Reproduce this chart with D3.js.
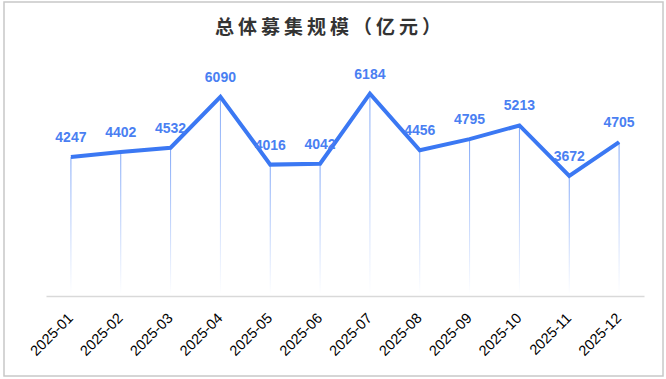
<!DOCTYPE html>
<html>
<head>
<meta charset="utf-8">
<script src="https://cdn.jsdelivr.net/npm/d3@7"></script>
<style>
  body { margin: 0; background: #fff; }
</style>
</head>
<body>
<div class="chart"></div>
<script>
const months = ["2025-01","2025-02","2025-03","2025-04","2025-05","2025-06",
                "2025-07","2025-08","2025-09","2025-10","2025-11","2025-12"];
const amounts = [4247, 4402, 4532, 6090, 4016, 4042, 6184, 4456, 4795, 5213, 3672, 4705];
const title = "总体募集规模（亿元）";

const data = months.map((m, i) => ({month: m, value: amounts[i]}));

const W = 666, H = 379;
const margin = ({top: 67, right: 22, bottom: 83, left: 46});
const width = W - margin.left - margin.right,
      height = H - margin.top - margin.bottom;

const svg = d3.select(".chart").append("svg")
    .attr("width", W)
    .attr("height", H);

// frame
svg.append("rect")
    .attr("x", 4).attr("y", 2)
    .attr("width", 659).attr("height", 374)
    .attr("fill", "none")
    .attr("stroke", "#c8c8c8")
    .attr("stroke-width", 1.5);

svg.append("text")
    .attr("x", 330).attr("y", 34)
    .attr("text-anchor", "middle")
    .attr("font-family", "'Noto Sans CJK SC', sans-serif")
    .attr("font-size", 19)
    .attr("font-weight", "bold")
    .attr("letter-spacing", 4)
    .attr("fill", "#333")
    .text(title);

const g = svg.append("g")
    .attr("transform", "translate(" + margin.left + "," + margin.top + ")");

const xScale = d3.scaleBand()
    .domain(months)
    .range([0, width]);

const yScale = d3.scaleLinear()
    .domain([0, 7000])
    .range([height, 0]);

const cx = d => xScale(d.month) + xScale.bandwidth() / 2;

// gradient for drop lines
const defs = svg.append("defs");
const grad = defs.append("linearGradient")
    .attr("id", "drop")
    .attr("x1", 0).attr("y1", 0).attr("x2", 0).attr("y2", 1);
grad.append("stop").attr("offset", "0%").attr("stop-color", "#6f9bf7").attr("stop-opacity", 0.9);
grad.append("stop").attr("offset", "100%").attr("stop-color", "#6f9bf7").attr("stop-opacity", 0);

g.append("g")
  .selectAll("rect")
  .data(data)
  .join("rect")
    .attr("x", d => cx(d) - 0.5)
    .attr("y", d => yScale(d.value))
    .attr("width", 1)
    .attr("height", d => height - 2 - yScale(d.value))
    .attr("fill", "url(#drop)");

// x axis
const xAxis = d3.axisBottom(xScale).tickSize(0).tickPadding(0);
g.append("g")
    .attr("class", "x-axis")
    .attr("transform", "translate(0," + height + ")")
    .call(xAxis)
    .call(a => a.select(".domain").attr("stroke", "#d9d9d9").attr("stroke-width", 1.5))
    .selectAll("text")
    .attr("font-family", "'Liberation Sans', Arial, sans-serif")
    .attr("font-size", 14.5)
    .attr("fill", "#000")
    .attr("text-anchor", "end")
    .attr("dy", 0)
    .attr("transform", "translate(3,23) rotate(-45)");

// line
const line = d3.line()
    .x(cx)
    .y(d => yScale(d.value));

g.append("path")
    .datum(data)
    .attr("fill", "none")
    .attr("stroke", "#3b78f3")
    .attr("stroke-width", 4)
    .attr("stroke-linejoin", "miter")
    .attr("d", line);

// labels
g.append("g")
  .selectAll("text")
  .data(data)
  .join("text")
    .attr("x", cx)
    .attr("y", d => yScale(d.value) - 15)
    .attr("text-anchor", "middle")
    .attr("font-family", "'Liberation Sans', Arial, sans-serif")
    .attr("font-size", 14)
    .attr("font-weight", "bold")
    .attr("fill", "#4a7ff2")
    .text(d => d.value);
</script>
</body>
</html>
